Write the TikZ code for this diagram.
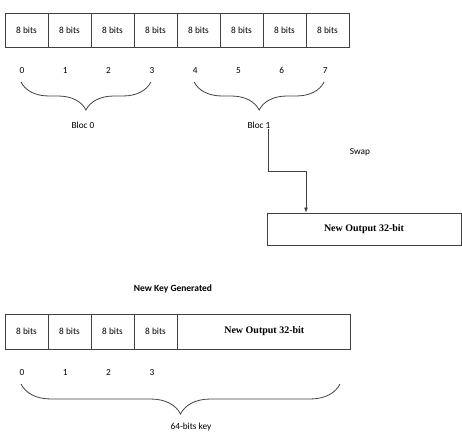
\documentclass[tikz,border=0pt]{standalone}
\usepackage{fontspec}
\setmainfont{Carlito}
\newfontfamily\tnrfont{Liberation Serif}
\usetikzlibrary{arrows.meta,positioning,calc,decorations.pathreplacing}

\begin{document}
\begin{tikzpicture}[
    x=1pt, y=-1pt,
    cell/.style={rectangle, draw=black!75, line width=0.8pt, minimum width=43pt, minimum height=34pt, inner sep=0pt, font=\fontsize{9.3}{11}\selectfont},
    bigcell/.style={cell, minimum width=173pt, minimum height=35pt, font=\tnrfont\bfseries\fontsize{10}{12}\selectfont},
    outbox/.style={cell, minimum width=194pt, minimum height=32pt, font=\tnrfont\bfseries\fontsize{10}{12}\selectfont},
    idx/.style={inner sep=1pt, text height=1.6ex, text depth=0.2ex, font=\fontsize{9.3}{11}\selectfont},
    lbl/.style={inner sep=1pt, font=\fontsize{9.3}{11}\selectfont},
    curly/.style={draw=black!75, line width=0.8pt, decorate, decoration={brace, mirror, amplitude=#1}},
    arrow/.style={-{Latex[length=5pt,width=4pt]}, draw=black!75, line width=0.8pt}
]
    \useasboundingbox (0,0) rectangle (462,444);

    % Input 64-bit word
    \foreach \i in {0,...,7} {
        \node[cell] (c\i) at ({26.5+43*\i},30) {8 bits};
        \node[idx] (i\i) at ({22+43.3*\i},70) {\i};
    }

    % Blocks
    \draw[curly=28pt] ($(i0)+(-1,12)$) -- ($(i3)+(-1,12)$);
    \draw[curly=28pt] ($(i4)+(-1,12)$) -- ($(i7)+(-1,12)$);
    \node[lbl] (b0) at (83,125) {Bloc 0};
    \node[lbl] (b1) at (259,125) {Bloc 1};

    % Swap
    \node[lbl] (swap) at (360,152) {Swap};
    \node[outbox] (out1) at (364,229) {New Output 32-bit};
    \draw[arrow] ([xshift=9pt]b1.south) -- ++(0,42) -| ([xshift=-58pt]out1.north);

    % New key
    \node[lbl, font=\bfseries\fontsize{9.5}{11}\selectfont] (key) at (173,289) {New Key Generated};
    \foreach \i in {0,...,3} {
        \node[cell, minimum height=35pt] (k\i) at ({26.5+43*\i},331.5) {8 bits};
        \node[idx] (j\i) at ({22+43.3*\i},372) {\i};
    }
    \node[bigcell, right=0pt of k3] (out2) {New Output 32-bit};

    % 64-bits key
    \coordinate (kend) at (340,384);
    \draw[curly=30pt] ($(j0)+(-1,12)$) -- (kend);
    \node[lbl] (klbl) at (191,427) {64-bits key};
\end{tikzpicture}
\end{document}
